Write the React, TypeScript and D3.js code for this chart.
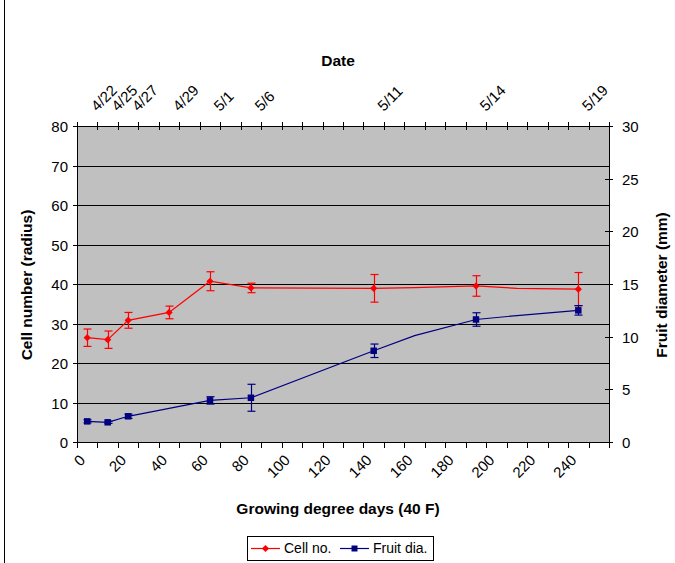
import React, { useEffect, useRef } from 'react';
import * as d3 from 'd3';

// category axis (growing degree days, 40 F)
const gddCategories = [0, 10, 20, 30, 40, 50, 60, 70, 80, 90, 100, 110, 120, 130, 140, 150, 160, 170, 180, 190, 200, 210, 220, 230, 240, 250];
const gddLabels = ['0', '20', '40', '60', '80', '100', '120', '140', '160', '180', '200', '220', '240'];

// sampling points
const gdd = [0, 10, 20, 40, 60, 80, 140, 160, 190, 210, 240];
const dates = ['4/22', '4/25', '4/27', '4/29', '5/1', '5/6', '5/11', '', '5/14', '', '5/19'];
const hasMarker = [true, true, true, true, true, true, true, false, true, false, true];

const cellNo = [26.4, 25.9, 30.8, 32.8, 40.7, 39.0, 38.9, 39.1, 39.5, 38.9, 38.7];
const cellErr = [2.2, 2.2, 2.0, 1.6, 2.4, 1.2, 3.5, null, 2.6, null, 4.2];
const fruitDia = [1.96, 1.87, 2.44, null, 3.95, 4.2, 8.66, 10.1, 11.63, 12.0, 12.5];
const fruitErr = [0.15, 0.1, 0.2, null, 0.35, 1.28, 0.64, null, 0.64, null, 0.45];

const leftTicks = [0, 10, 20, 30, 40, 50, 60, 70, 80];
const rightTicks = [0, 5, 10, 15, 20, 25, 30];

const FONT = '"Liberation Sans", Arial, sans-serif';

export default function App() {
  const svgRef = useRef<SVGSVGElement>(null);

  useEffect(() => {
    if (!svgRef.current) return;
    const svg = d3.select(svgRef.current);
    svg.selectAll('*').remove();

    const width = 675;
    const height = 563;
    const left = 77, right = 609, top = 126, bottom = 442;

    svg.attr('width', width).attr('height', height).style('font-family', FONT);

    svg.append('rect').attr('width', width).attr('height', height).attr('fill', '#fff');
    // chart area border (only left edge visible)
    svg.append('line')
      .attr('x1', 4.5).attr('x2', 4.5).attr('y1', 0).attr('y2', height)
      .attr('stroke', '#000');

    const x = d3.scaleBand<number>().domain(gddCategories).range([left, right]).padding(0);
    const cx = (g: number) => (x(g) as number) + x.bandwidth() / 2;
    const yL = d3.scaleLinear().domain([0, 80]).range([bottom, top]);
    const yR = d3.scaleLinear().domain([0, 30]).range([bottom, top]);
    const crisp = (v: number) => Math.round(v) + 0.5;

    // plot area
    svg.append('rect')
      .attr('x', left).attr('y', top)
      .attr('width', right - left).attr('height', bottom - top)
      .attr('fill', '#c0c0c0');

    // gridlines
    leftTicks.forEach(t => {
      svg.append('line')
        .attr('x1', left).attr('x2', right)
        .attr('y1', crisp(yL(t))).attr('y2', crisp(yL(t)))
        .attr('stroke', '#000');
    });

    // axis frame
    svg.append('rect')
      .attr('x', crisp(left)).attr('y', crisp(top))
      .attr('width', right - left).attr('height', bottom - top)
      .attr('fill', 'none').attr('stroke', '#000');

    // left axis ticks + labels
    leftTicks.forEach(t => {
      const y = crisp(yL(t));
      svg.append('line').attr('x1', left - 4).attr('x2', left + 4).attr('y1', y).attr('y2', y).attr('stroke', '#000');
      svg.append('text')
        .attr('x', left - 9).attr('y', y).attr('dy', '0.35em')
        .attr('text-anchor', 'end')
        .style('font-size', '15px')
        .text(t);
    });

    // right axis ticks + labels
    rightTicks.forEach(t => {
      const y = crisp(yR(t));
      svg.append('line').attr('x1', right - 4).attr('x2', right + 4).attr('y1', y).attr('y2', y).attr('stroke', '#000');
      svg.append('text')
        .attr('x', right + 13).attr('y', y).attr('dy', '0.35em')
        .style('font-size', '15px')
        .text(t);
    });

    // category ticks (between categories)
    const edges = gddCategories.map(g => x(g) as number).concat([right]);
    edges.forEach(e => {
      const ex = crisp(e);
      svg.append('line').attr('x1', ex).attr('x2', ex).attr('y1', top - 4).attr('y2', top + 4).attr('stroke', '#000');
      svg.append('line').attr('x1', ex).attr('x2', ex).attr('y1', bottom).attr('y2', bottom + 6).attr('stroke', '#000');
    });

    // bottom labels
    gddLabels.forEach(l => {
      const px = cx(+l);
      svg.append('text')
        .attr('transform', `translate(${px - 1}, ${bottom + 19}) rotate(-45)`)
        .attr('text-anchor', 'end')
        .style('font-size', '15px')
        .text(l);
    });

    // top date labels
    dates.forEach((d, i) => {
      if (!d) return;
      svg.append('text')
        .attr('transform', `translate(${cx(gdd[i]) + 10}, ${top - 14}) rotate(-45)`)
        .attr('text-anchor', 'start')
        .style('font-size', '15px')
        .text(d);
    });

    // titles
    const titleStyle = (s: d3.Selection<SVGTextElement, unknown, null, undefined>) =>
      s.style('font-size', '15.5px').style('font-weight', 'bold').attr('text-anchor', 'middle');
    svg.append('text').attr('x', 338).attr('y', 66).call(titleStyle).text('Date');
    svg.append('text').attr('x', 338).attr('y', 514).call(titleStyle).text('Growing degree days (40 F)');
    svg.append('text').attr('transform', `translate(32, 285) rotate(-90)`).call(titleStyle).text('Cell number (radius)');
    svg.append('text').attr('transform', `translate(667, 285) rotate(-90)`).call(titleStyle).text('Fruit diameter (mm)');

    type Pt = { g: number; v: number; e: number | null; m: boolean };
    const cellPts: Pt[] = gdd.map((g, i) => ({ g, v: cellNo[i], e: cellErr[i], m: hasMarker[i] }));
    const fruitPts: Pt[] = gdd
      .map((g, i) => ({ g, v: fruitDia[i] as number, e: fruitErr[i], m: hasMarker[i] }))
      .filter(p => p.v != null);

    const drawSeries = (
      pts: Pt[],
      y: d3.ScaleLinear<number, number>,
      color: string,
      symbol: d3.SymbolType,
      size: number,
      rot: number
    ) => {
      const line = d3.line<Pt>().x(p => cx(p.g)).y(p => y(p.v));
      svg.append('path').datum(pts).attr('d', line).attr('fill', 'none').attr('stroke', color).attr('stroke-width', 1.2);

      pts.filter(p => p.e != null).forEach(p => {
        const px = crisp(cx(p.g));
        const y1 = y(p.v + (p.e as number));
        const y2 = y(p.v - (p.e as number));
        const g = svg.append('g').attr('stroke', color).attr('stroke-width', 1.2);
        g.append('line').attr('x1', px).attr('x2', px).attr('y1', y1).attr('y2', y2);
        g.append('line').attr('x1', px - 4).attr('x2', px + 4).attr('y1', y1).attr('y2', y1);
        g.append('line').attr('x1', px - 4).attr('x2', px + 4).attr('y1', y2).attr('y2', y2);
      });

      const sym = d3.symbol().type(symbol).size(size);
      pts.filter(p => p.m).forEach(p => {
        svg.append('path')
          .attr('d', sym() as string)
          .attr('transform', `translate(${cx(p.g)}, ${y(p.v)}) rotate(${rot})`)
          .attr('fill', color);
      });
    };

    drawSeries(cellPts, yL, '#ff0000', d3.symbolSquare, 26, 45);
    drawSeries(fruitPts, yR, '#000080', d3.symbolSquare, 42, 0);

    // legend
    const legend = svg.append('g');
    legend.append('rect')
      .attr('x', 247.5).attr('y', 536.5).attr('width', 186).attr('height', 24)
      .attr('fill', '#fff').attr('stroke', '#000');
    const items = [
      { label: 'Cell no.', color: '#ff0000', x0: 251, rot: 45, size: 26 },
      { label: 'Fruit dia.', color: '#000080', x0: 340, rot: 0, size: 36 },
    ];
    items.forEach(it => {
      legend.append('line')
        .attr('x1', it.x0).attr('x2', it.x0 + 29).attr('y1', 548.5).attr('y2', 548.5)
        .attr('stroke', it.color).attr('stroke-width', 1.2);
      legend.append('path')
        .attr('d', d3.symbol().type(d3.symbolSquare).size(it.size)() as string)
        .attr('transform', `translate(${it.x0 + 14.5}, 548.5) rotate(${it.rot})`)
        .attr('fill', it.color);
      legend.append('text')
        .attr('x', it.x0 + 33).attr('y', 548.5).attr('dy', '0.35em')
        .style('font-size', '14px')
        .text(it.label);
    });
  }, []);

  return (
    <div style={{ position: 'fixed', left: 0, top: 0, width: 675, height: 563, background: '#fff' }}>
      <svg ref={svgRef}></svg>
    </div>
  );
}
